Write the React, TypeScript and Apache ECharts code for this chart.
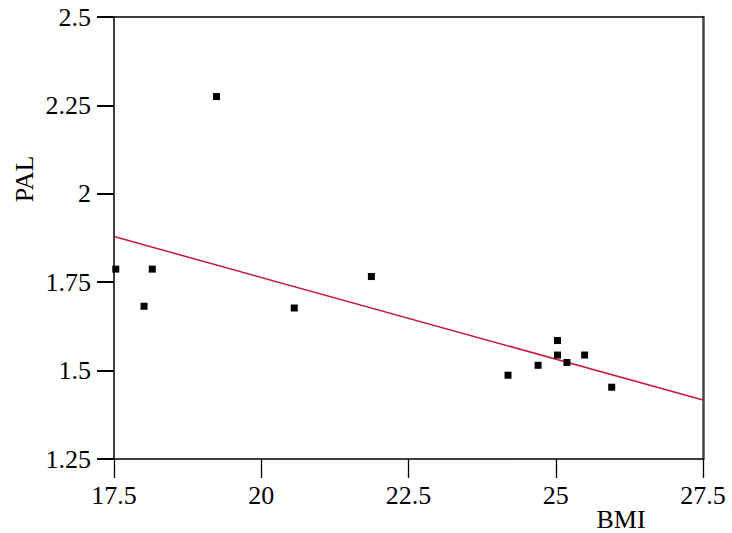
import React, { useEffect, useRef } from "react";
import * as echarts from "echarts";

const bmi: number[] = [17.53, 18.15, 18.01, 19.24, 20.56, 21.87, 24.19, 24.7, 25.03, 25.03, 25.19, 25.49, 25.95];
const pal: number[] = [1.787, 1.787, 1.682, 2.275, 1.677, 1.766, 1.487, 1.515, 1.585, 1.544, 1.523, 1.544, 1.453];
const fitX: number[] = [17.5, 27.5];
const fitY: number[] = [1.879, 1.417];
const xTicks: number[] = [17.5, 20, 22.5, 25, 27.5];
const yTicks: number[] = [1.25, 1.5, 1.75, 2, 2.25, 2.5];

const FONT = "Liberation Serif, Times New Roman, serif";

export default function App() {
  const ref = useRef<HTMLDivElement>(null);
  useEffect(() => {
    if (!ref.current) return;
    const chart = echarts.init(ref.current, null, { renderer: "svg" });
    const xMin = xTicks[0], xMax = xTicks[xTicks.length - 1];
    const yMin = yTicks[0], yMax = yTicks[yTicks.length - 1];
    chart.setOption({
      animation: false,
      backgroundColor: "#ffffff",
      grid: { left: 114, right: 29, top: 17, bottom: 74, containLabel: false },
      xAxis: [
        {
          type: "value",
          min: xMin,
          max: xMax,
          interval: 2.5,
          position: "bottom",
          splitLine: { show: false },
          axisLine: { show: true, onZero: false, lineStyle: { color: "#000", width: 1.5 } },
          axisTick: { show: true, inside: false, length: 19, lineStyle: { color: "#000", width: 1.3 } },
          axisLabel: {
            color: "#000",
            fontFamily: FONT,
            fontSize: 26,
            margin: 23,
            formatter: (v: number) => String(v),
          },
        },
        {
          type: "value",
          min: xMin,
          max: xMax,
          position: "top",
          splitLine: { show: false },
          axisLine: { show: true, onZero: false, lineStyle: { color: "#000", width: 1.5 } },
          axisTick: { show: false },
          axisLabel: { show: false },
        },
      ],
      yAxis: [
        {
          type: "value",
          min: yMin,
          max: yMax,
          interval: 0.25,
          position: "left",
          splitLine: { show: false },
          axisLine: { show: true, onZero: false, lineStyle: { color: "#000", width: 1.5 } },
          axisTick: { show: true, inside: false, length: 17, lineStyle: { color: "#000", width: 2 } },
          axisLabel: {
            color: "#000",
            fontFamily: FONT,
            fontSize: 26,
            margin: 23,
            formatter: (v: number) => String(v),
          },
        },
        {
          type: "value",
          min: yMin,
          max: yMax,
          position: "right",
          splitLine: { show: false },
          axisLine: { show: true, onZero: false, lineStyle: { color: "#444", width: 2.5 } },
          axisTick: { show: false },
          axisLabel: { show: false },
        },
      ],
      graphic: [
        {
          type: "text",
          x: 24,
          y: 179,
          rotation: Math.PI / 2,
          style: {
            text: "PAL",
            fontFamily: FONT,
            fontSize: 26,
            fill: "#000",
            textAlign: "center",
            textVerticalAlign: "middle",
          },
        },
        {
          type: "text",
          x: 621,
          y: 519,
          style: {
            text: "BMI",
            fontFamily: FONT,
            fontSize: 26,
            fill: "#000",
            textAlign: "center",
            textVerticalAlign: "middle",
          },
        },
      ],
      series: [
        {
          type: "line",
          data: fitX.map((x, i) => [x, fitY[i]]),
          showSymbol: false,
          symbol: "none",
          lineStyle: { color: "#c8193a", width: 1.5 },
          z: 2,
        },
        {
          type: "scatter",
          data: bmi.map((x, i) => [x, pal[i]]),
          symbol: "rect",
          symbolSize: 7,
          itemStyle: { color: "#000", opacity: 1 },
          emphasis: { disabled: true },
          z: 3,
        },
      ],
    });
    return () => chart.dispose();
  }, []);
  return (
    <div
      ref={ref}
      style={{ position: "absolute", left: 0, top: 0, width: 732, height: 533 }}
    />
  );
}
